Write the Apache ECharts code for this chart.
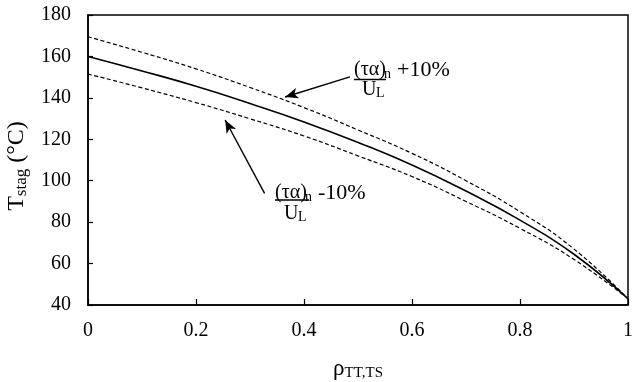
<!DOCTYPE html>
<html>
<head>
<meta charset="utf-8">
<script src="https://cdn.jsdelivr.net/npm/echarts@6/dist/echarts.min.js"></script>
<style>
  html, body { margin: 0; padding: 0; background: #ffffff; }
  #chart { width: 637px; height: 382px; }
</style>
</head>
<body>
<div id="chart"></div>
<script>
// Stagnation temperature versus rho_TT,TS for the nominal (τα)n/UL and ±10 %
const rho = [0, 0.1, 0.2, 0.3, 0.4, 0.5, 0.6, 0.7, 0.8, 0.9, 1];
const tStagNominal = [160, 153.0, 145.6, 137.3, 128.4, 118.5, 107.6, 95.0, 81.0, 64.5, 43];
const tStagPlus10  = [169.5, 162.0, 154.0, 145.0, 135.3, 124.5, 113.2, 100.0, 85.0, 67.0, 43];
const tStagMinus10 = [151.5, 144.8, 137.7, 129.9, 121.6, 112.0, 102.0, 90.0, 77.0, 62.0, 43];

const xTickLabels = ['0', '0.2', '0.4', '0.6', '0.8', '1'];
const yTickLabels = ['40', '60', '80', '100', '120', '140', '160', '180'];

// Annotation arrows: [start, tip] in data units
const arrowPlus  = [[0.485, 150.1], [0.365, 140.4]];
const arrowMinus = [[0.327, 93.9], [0.254, 129.3]];

const SERIF = '"Liberation Serif", "Times New Roman", serif';

function pairs(xs, ys) { return xs.map((x, i) => [x, ys[i]]); }

const chart = echarts.init(document.getElementById('chart'), null, { renderer: 'canvas' });

const lineBase = { type: 'line', showSymbol: false, smooth: 0.5, silent: true };

chart.setOption({
  animation: false,
  backgroundColor: '#ffffff',
  grid: {
    left: 88, right: 9, top: 15, bottom: 77,
    containLabel: false, outerBoundsMode: 'none',
    show: true, borderColor: '#000', borderWidth: 1.5, backgroundColor: 'transparent'
  },
  xAxis: {
    type: 'value', min: 0, max: 1, interval: 0.2,
    axisLine: { lineStyle: { color: '#000', width: 1.5 } },
    axisTick: { inside: true, length: 6, lineStyle: { color: '#000', width: 1.2 } },
    splitLine: { show: false },
    axisLabel: {
      margin: 16, color: '#000', fontFamily: SERIF, fontSize: 20,
      formatter: (v) => xTickLabels[Math.round(v / 0.2)]
    },
    name: '{m|ρ}{s|TT,TS}',
    nameLocation: 'middle', nameGap: 52,
    nameTextStyle: {
      color: '#000', fontFamily: SERIF,
      rich: {
        m: { fontFamily: SERIF, fontSize: 23, color: '#000' },
        s: { fontFamily: SERIF, fontSize: 15, color: '#000', padding: [9, 0, 0, 0] }
      }
    }
  },
  yAxis: {
    type: 'value', min: 40, max: 180, interval: 20,
    axisLine: { lineStyle: { color: '#000', width: 1.5 } },
    axisTick: { show: true, inside: true, length: 5, lineStyle: { color: '#000', width: 1.2 } },
    splitLine: { show: false },
    axisLabel: {
      margin: 17, color: '#000', fontFamily: SERIF, fontSize: 20,
      formatter: (v) => yTickLabels[Math.round((v - 40) / 20)]
    },
    name: '{m|T}{s|stag}{m| (°C)}',
    nameLocation: 'middle', nameGap: 53, nameRotate: 90,
    nameTextStyle: {
      color: '#000', fontFamily: SERIF, padding: [0, 12, 0, 0],
      rich: {
        m: { fontFamily: SERIF, fontSize: 24, color: '#000' },
        s: { fontFamily: SERIF, fontSize: 17, color: '#000', padding: [10, 0, 0, 0] }
      }
    }
  },
  series: [
    Object.assign({}, lineBase, {
      name: '+10%', data: pairs(rho, tStagPlus10),
      lineStyle: { color: '#000', width: 1.2, type: [4, 2.5] }
    }),
    Object.assign({}, lineBase, {
      name: 'nominal', data: pairs(rho, tStagNominal),
      lineStyle: { color: '#000', width: 1.6, type: 'solid' },
      markLine: {
        silent: true,
        symbol: ['none', 'arrow'], symbolSize: [8, 13],
        label: { show: false },
        lineStyle: { color: '#000', width: 1.4, type: 'solid' },
        data: [
          [{ coord: arrowPlus[0] }, { coord: arrowPlus[1] }],
          [{ coord: arrowMinus[0] }, { coord: arrowMinus[1] }]
        ]
      }
    }),
    Object.assign({}, lineBase, {
      name: '-10%', data: pairs(rho, tStagMinus10),
      lineStyle: { color: '#000', width: 1.2, type: [4, 2.5] }
    })
  ],
  graphic: [
    // (τα)n / UL  +10%
    { type: 'text', x: 354, y: 70, style: { text: '(τα)', font: '20px ' + SERIF, fill: '#000', verticalAlign: 'middle' } },
    { type: 'text', x: 384, y: 74, style: { text: 'n', font: '14px ' + SERIF, fill: '#000', verticalAlign: 'middle' } },
    { type: 'line', shape: { x1: 354, y1: 79.5, x2: 386, y2: 79.5 }, style: { stroke: '#000', lineWidth: 1.5 } },
    { type: 'text', x: 362, y: 90, style: { text: 'U', font: '20px ' + SERIF, fill: '#000', verticalAlign: 'middle' } },
    { type: 'text', x: 376, y: 93, style: { text: 'L', font: '14px ' + SERIF, fill: '#000', verticalAlign: 'middle' } },
    { type: 'text', x: 397, y: 70, style: { text: '+10%', font: '22px ' + SERIF, fill: '#000', verticalAlign: 'middle' } },
    // (τα)n / UL  -10%
    { type: 'text', x: 275, y: 193, style: { text: '(τα)', font: '20px ' + SERIF, fill: '#000', verticalAlign: 'middle' } },
    { type: 'text', x: 305, y: 197, style: { text: 'n', font: '14px ' + SERIF, fill: '#000', verticalAlign: 'middle' } },
    { type: 'line', shape: { x1: 275, y1: 200, x2: 309, y2: 200 }, style: { stroke: '#000', lineWidth: 1.5 } },
    { type: 'text', x: 284, y: 214, style: { text: 'U', font: '20px ' + SERIF, fill: '#000', verticalAlign: 'middle' } },
    { type: 'text', x: 298, y: 217, style: { text: 'L', font: '14px ' + SERIF, fill: '#000', verticalAlign: 'middle' } },
    { type: 'text', x: 318, y: 193, style: { text: '-10%', font: '22px ' + SERIF, fill: '#000', verticalAlign: 'middle' } }
  ]
});
</script>
</body>
</html>
